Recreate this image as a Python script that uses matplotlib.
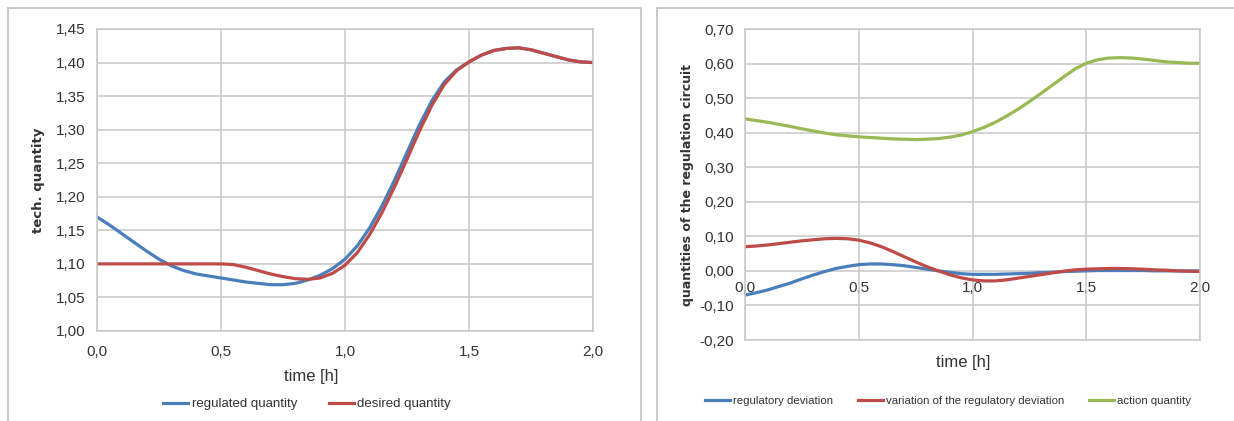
import matplotlib
matplotlib.use("Agg")
import matplotlib.pyplot as plt
from matplotlib.patches import Rectangle

# time axis, 0.05 h steps
time_h = [round(i * 0.05, 2) for i in range(41)]

regulated = [1.170, 1.158, 1.145, 1.132, 1.119, 1.107, 1.097, 1.090, 1.085, 1.082,
             1.079, 1.076, 1.073, 1.071, 1.069, 1.069, 1.071, 1.076, 1.083, 1.093,
             1.107, 1.127, 1.154, 1.187, 1.225, 1.266, 1.307, 1.343, 1.371, 1.389,
             1.401, 1.411, 1.418, 1.421, 1.422, 1.419, 1.414, 1.409, 1.404, 1.401,
             1.400]
desired = [1.100, 1.100, 1.100, 1.100, 1.100, 1.100, 1.100, 1.100, 1.100, 1.100,
           1.100, 1.099, 1.095, 1.090, 1.085, 1.081, 1.078, 1.077, 1.079, 1.086,
           1.098, 1.117, 1.144, 1.177, 1.215, 1.256, 1.298, 1.336, 1.367, 1.388,
           1.401, 1.411, 1.418, 1.421, 1.422, 1.419, 1.414, 1.409, 1.404, 1.401,
           1.400]

reg_deviation = [-0.070, -0.063, -0.055, -0.045, -0.035, -0.023, -0.012, -0.002, 0.007, 0.013,
                 0.018, 0.020, 0.020, 0.018, 0.015, 0.010, 0.005, 0.000, -0.004, -0.008,
                 -0.010, -0.010, -0.010, -0.009, -0.008, -0.007, -0.005, -0.004, -0.002, -0.001,
                 0.000, 0.001, 0.001, 0.001, 0.001, 0.001, 0.000, 0.000, 0.000, 0.000,
                 0.000]
variation = [0.070, 0.072, 0.075, 0.079, 0.083, 0.087, 0.090, 0.093, 0.094, 0.093,
             0.089, 0.081, 0.070, 0.056, 0.041, 0.026, 0.012, 0.000, -0.011, -0.020,
             -0.026, -0.029, -0.029, -0.026, -0.021, -0.016, -0.011, -0.006, -0.001, 0.003,
             0.005, 0.006, 0.007, 0.007, 0.006, 0.005, 0.003, 0.002, 0.000, -0.001,
             -0.002]
action = [0.440, 0.435, 0.430, 0.424, 0.418, 0.411, 0.405, 0.399, 0.394, 0.391,
          0.388, 0.386, 0.384, 0.382, 0.381, 0.380, 0.381, 0.383, 0.387, 0.393,
          0.403, 0.415, 0.430, 0.448, 0.468, 0.490, 0.513, 0.537, 0.561, 0.584,
          0.601, 0.611, 0.616, 0.617, 0.616, 0.613, 0.609, 0.605, 0.603, 0.601,
          0.601]

x_ticks = [0.0, 0.5, 1.0, 1.5, 2.0]
x_labels = ["0,0", "0,5", "1,0", "1,5", "2,0"]
left_yticks = [1.00, 1.05, 1.10, 1.15, 1.20, 1.25, 1.30, 1.35, 1.40, 1.45]
right_yticks = [-0.20, -0.10, 0.00, 0.10, 0.20, 0.30, 0.40, 0.50, 0.60, 0.70]

BLUE = "#4a7ebb"
RED = "#be4b48"
GREEN = "#98b954"
GRID = "#c8c8c8"
TXT = "#333333"
FONT = ["Liberation Sans", "DejaVu Sans"]

W, H = 1234, 421
fig = plt.figure(figsize=(W / 100, H / 100), dpi=100)

# panel frames
fig.patches.append(Rectangle((8 / W, -0.1), (641 - 8) / W, 1.1 - 8 / H, transform=fig.transFigure,
                             fill=False, edgecolor="#c4c4c4", linewidth=1.3))
fig.patches.append(Rectangle((657 / W, -0.1), 0.5, 1.1 - 8 / H, transform=fig.transFigure,
                             fill=False, edgecolor="#c4c4c4", linewidth=1.3))


def style(ax, yticks):
    ax.set_xlim(0, 2)
    ax.set_ylim(yticks[0], yticks[-1])
    ax.set_xticks(x_ticks)
    ax.set_yticks(yticks)
    ax.set_yticklabels(["{:.2f}".format(v).replace(".", ",") for v in yticks], family=FONT, fontsize=11)
    ax.grid(True, color=GRID, linewidth=1.1)
    for s in ax.spines.values():
        s.set_color(GRID)
        s.set_linewidth(1.1)
    ax.tick_params(length=0, pad=8, labelcolor=TXT)


# left chart
ax1 = fig.add_axes([97 / W, 1 - 331 / H, (593 - 97) / W, (331 - 29) / H])
style(ax1, left_yticks)
ax1.set_xticklabels(x_labels, family=FONT, fontsize=11)
ax1.tick_params(axis="x", pad=10)
l1, = ax1.plot(time_h, regulated, color=BLUE, lw=2.3, label="regulated quantity")
l2, = ax1.plot(time_h, desired, color=RED, lw=2.3, label="desired quantity")
ax1.set_xlabel("time [h]", family=FONT, fontsize=12, color=TXT)
ax1.xaxis.set_label_coords((311 - 97) / 496, -(377 - 331) / 302, transform=ax1.transAxes)
ax1.xaxis.label.set_va("center")
ax1.set_ylabel("tech. quantity", fontsize=9.5, fontweight="bold", color=TXT, labelpad=8)
fig.legend(handles=[l1, l2], loc="center", bbox_to_anchor=(307 / W, 1 - 404 / H), ncol=2,
           frameon=False, prop={"family": FONT, "size": 9.5}, handlelength=1.9,
           handletextpad=0.25, columnspacing=2.4, labelcolor=TXT)

# right chart
ax2 = fig.add_axes([745 / W, 1 - 340 / H, (1200 - 745) / W, (340 - 29) / H])
style(ax2, right_yticks)
ax2.set_xticklabels([])
ymin, ymax = right_yticks[0], right_yticks[-1]
sec = ax2.secondary_xaxis((0 - ymin) / (ymax - ymin))
sec.set_xticks(x_ticks)
sec.set_xticklabels(x_labels, family=FONT, fontsize=11)
sec.tick_params(length=0, pad=7, labelcolor=TXT)
sec.spines["bottom"].set_visible(False)
m1, = ax2.plot(time_h, reg_deviation, color=BLUE, lw=2.3, label="regulatory deviation")
m2, = ax2.plot(time_h, variation, color=RED, lw=2.3, label="variation of the regulatory deviation")
m3, = ax2.plot(time_h, action, color=GREEN, lw=2.3, label="action quantity")
ax2.set_xlabel("time [h]", family=FONT, fontsize=12, color=TXT)
ax2.xaxis.set_label_coords((963 - 745) / 455, -(363 - 340) / 311, transform=ax2.transAxes)
ax2.xaxis.label.set_va("center")
ax2.set_ylabel("quantities of the regulation circuit", fontsize=9, fontweight="semibold",
               color=TXT, labelpad=4)
fig.legend(handles=[m1, m2, m3], loc="center", bbox_to_anchor=(948 / W, 1 - 401 / H), ncol=3,
           frameon=False, prop={"family": FONT, "size": 8.2}, handlelength=2.2,
           handletextpad=0.25, columnspacing=2.2, labelcolor=TXT)

fig.savefig("out.png", dpi=100)
